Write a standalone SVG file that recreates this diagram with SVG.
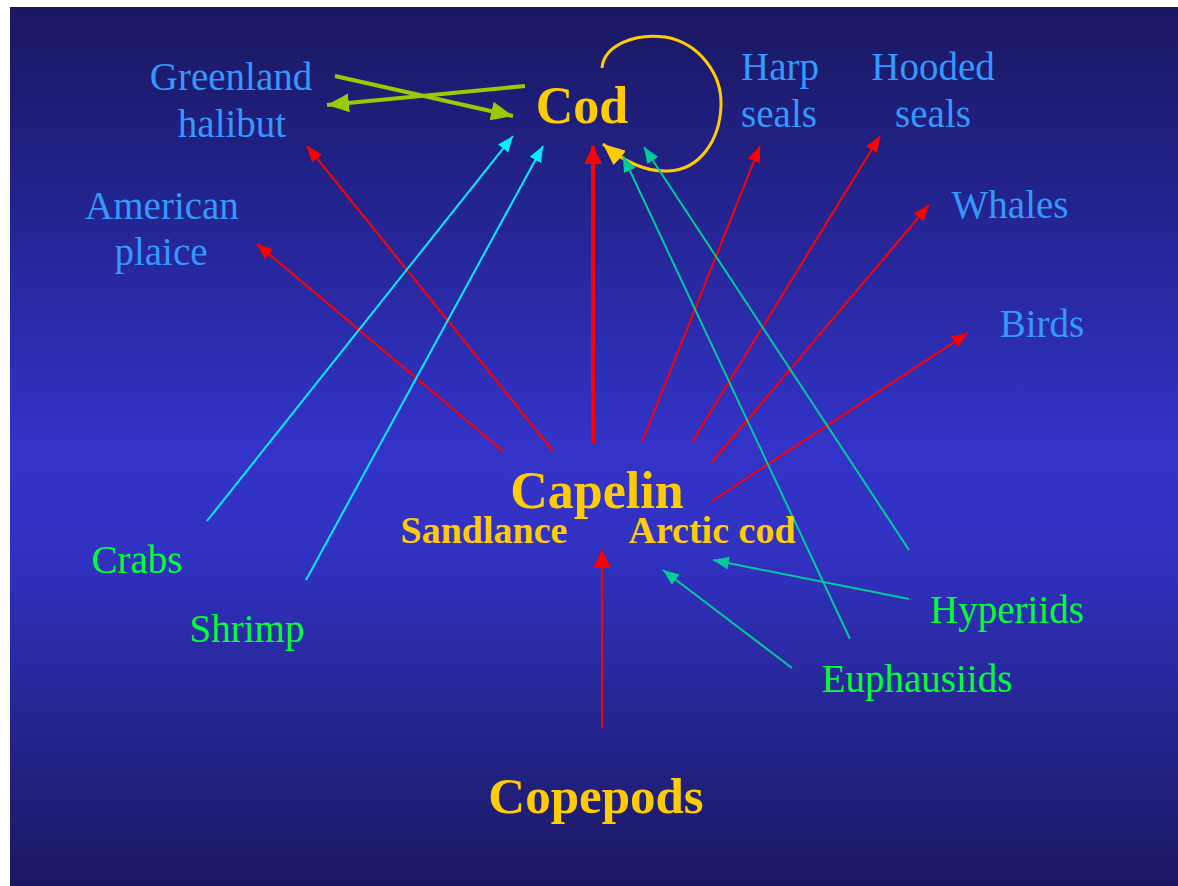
<svg xmlns="http://www.w3.org/2000/svg" width="1178" height="886" viewBox="0 0 1178 886">
<defs>
<linearGradient id="bg" x1="0" y1="0" x2="0" y2="1">
<stop offset="0" stop-color="#1a1860"/>
<stop offset="0.2" stop-color="#22228a"/>
<stop offset="0.5" stop-color="#3333c8"/>
<stop offset="0.62" stop-color="#3131c2"/>
<stop offset="0.82" stop-color="#25258e"/>
<stop offset="1" stop-color="#1a1860"/>
</linearGradient>
<marker id="mRed" markerUnits="userSpaceOnUse" orient="auto" markerWidth="17" markerHeight="13" refX="16" refY="6.5" viewBox="0 0 17 13"><path d="M0,0 L16,6.5 L0,13 z" fill="#ff0000"/></marker>
<marker id="mRedBig" markerUnits="userSpaceOnUse" orient="auto" markerWidth="19" markerHeight="18" refX="18" refY="9" viewBox="0 0 19 18"><path d="M0,0 L18,9 L0,18 z" fill="#ff0000"/></marker>
<marker id="mCyan" markerUnits="userSpaceOnUse" orient="auto" markerWidth="17" markerHeight="13" refX="16" refY="6.5" viewBox="0 0 17 13"><path d="M0,0 L16,6.5 L0,13 z" fill="#00eeff"/></marker>
<marker id="mTeal" markerUnits="userSpaceOnUse" orient="auto" markerWidth="17" markerHeight="13" refX="16" refY="6.5" viewBox="0 0 17 13"><path d="M0,0 L16,6.5 L0,13 z" fill="#00cc99"/></marker>
<marker id="mLime" markerUnits="userSpaceOnUse" orient="auto" markerWidth="23" markerHeight="19" refX="22" refY="9.5" viewBox="0 0 23 19"><path d="M0,0 L22,9.5 L0,19 z" fill="#99cc00"/></marker>
<marker id="mGold" markerUnits="userSpaceOnUse" orient="auto" markerWidth="23" markerHeight="19" refX="22" refY="9.5" viewBox="0 0 23 19"><path d="M0,0 L22,9.5 L0,19 z" fill="#ffcc00"/></marker>
</defs>
<style>
.lbl{font-family:"Liberation Serif","Times New Roman",serif;font-size:39px;text-anchor:middle}
.blue{fill:#3399ff}
.green{fill:#00ff33}
.gold{fill:#ffcc00;font-weight:bold}
.red{stroke:#ff0000;stroke-width:2;fill:none}
.redb{stroke:#ff0000;stroke-width:4;fill:none}
.cyan{stroke:#00eeff;stroke-width:2;fill:none}
.teal{stroke:#00cc99;stroke-width:2;fill:none}
.lime{stroke:#99cc00;stroke-width:4;fill:none}
.goldl{stroke:#ffcc00;stroke-width:3;fill:none}
</style>
<rect x="0" y="0" width="1178" height="886" fill="#ffffff"/>
<rect x="10" y="7" width="1168" height="879" fill="url(#bg)"/>

<g id="connectors">
<line class="lime" x1="335" y1="76" x2="513" y2="116" marker-end="url(#mLime)"/>
<line class="lime" x1="525" y1="86" x2="327" y2="105" marker-end="url(#mLime)"/>
<path class="goldl" d="M602,68 C604,45 635,33 665,37 C700,43 722,75 721,105 C720,140 700,170 668,171 C645,172 622,160 603,144" marker-end="url(#mGold)"/>
<line class="redb" x1="593" y1="443" x2="593" y2="146" marker-end="url(#mRedBig)"/>
<line class="red" x1="553" y1="451" x2="307" y2="146" marker-end="url(#mRed)"/>
<line class="red" x1="504" y1="452" x2="257" y2="244" marker-end="url(#mRed)"/>
<line class="red" x1="642" y1="442" x2="760" y2="146" marker-end="url(#mRed)"/>
<line class="red" x1="692" y1="442" x2="880" y2="136" marker-end="url(#mRed)"/>
<line class="red" x1="712" y1="462" x2="929" y2="205" marker-end="url(#mRed)"/>
<line class="red" x1="712" y1="501" x2="968" y2="333" marker-end="url(#mRed)"/>
<line class="red" x1="602" y1="728" x2="602" y2="550" marker-end="url(#mRedBig)"/>
<line class="cyan" x1="207" y1="521" x2="513" y2="136" marker-end="url(#mCyan)"/>
<line class="cyan" x1="306" y1="580" x2="543" y2="146" marker-end="url(#mCyan)"/>
<line class="teal" x1="850" y1="639" x2="623" y2="156" marker-end="url(#mTeal)"/>
<line class="teal" x1="909" y1="550" x2="644" y2="147" marker-end="url(#mTeal)"/>
<line class="teal" x1="909" y1="599" x2="713" y2="560" marker-end="url(#mTeal)"/>
<line class="teal" x1="792" y1="668" x2="663" y2="570" marker-end="url(#mTeal)"/>
</g>

<g id="greenland-halibut"><text class="lbl blue" x="231" y="90">Greenland</text><text class="lbl blue" x="232" y="137">halibut</text></g>
<g id="cod"><text class="lbl gold" x="582" y="123" style="font-size:52px">Cod</text></g>
<g id="harp-seals"><text class="lbl blue" x="780" y="80">Harp</text><text class="lbl blue" x="779" y="127">seals</text></g>
<g id="hooded-seals"><text class="lbl blue" x="933" y="80">Hooded</text><text class="lbl blue" x="933" y="127">seals</text></g>
<g id="whales"><text class="lbl blue" x="1010" y="218">Whales</text></g>
<g id="birds"><text class="lbl blue" x="1042" y="337">Birds</text></g>
<g id="american-plaice"><text class="lbl blue" x="162" y="219">American</text><text class="lbl blue" x="161" y="265">plaice</text></g>
<g id="crabs"><text class="lbl green" x="137" y="573">Crabs</text></g>
<g id="shrimp"><text class="lbl green" x="247" y="642">Shrimp</text></g>
<g id="hyperiids"><text class="lbl green" x="1007" y="623">Hyperiids</text></g>
<g id="euphausiids"><text class="lbl green" x="917" y="692">Euphausiids</text></g>
<g id="capelin"><text class="lbl gold" x="597" y="508" style="font-size:52px">Capelin</text><text class="lbl gold" x="484" y="543" style="font-size:38px">Sandlance</text><text class="lbl gold" x="712" y="543" style="font-size:38px">Arctic cod</text></g>
<g id="copepods"><text class="lbl gold" x="596" y="813" style="font-size:51px">Copepods</text></g>
</svg>
